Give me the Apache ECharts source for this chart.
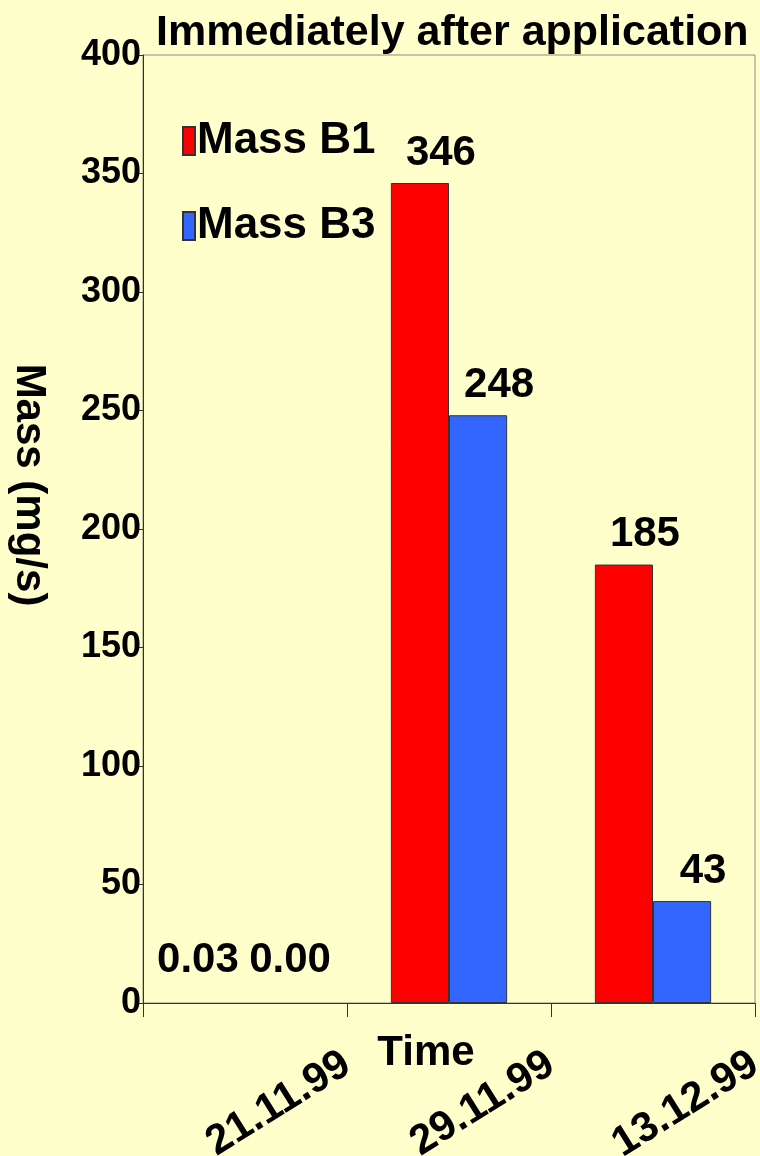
<!DOCTYPE html>
<html>
<head>
<meta charset="utf-8">
<script src="https://cdn.jsdelivr.net/npm/echarts@6/dist/echarts.min.js"></script>
<style>
  html, body { margin: 0; padding: 0; background: #FFFFCC; }
  #chart { width: 760px; height: 1156px; }
</style>
</head>
<body>
<div id="chart"></div>
<script>
// Sampling dates and measured mass flows
const categories = ['21.11.99', '29.11.99', '13.12.99'];
const massB1 = [0.03, 346, 185];
const massB3 = [0.00, 248, 43];
const yTicks = { min: 0, max: 400, interval: 50 };

const FONT = "'Liberation Sans', Arial, sans-serif";

// Near-zero values get their labels lifted and spread apart, and no outline
function withLabels(values, nearZeroOffset) {
  return values.map(v => v < 1
    ? { value: v, label: { offset: nearZeroOffset }, itemStyle: { borderWidth: 0 } }
    : v);
}

const barLabel = {
  show: true,
  position: 'top',
  distance: 9,
  offset: [21, 0],
  fontFamily: FONT,
  fontWeight: 'bold',
  fontSize: 42,
  color: '#000',
  formatter: p => (p.value < 1 ? p.value.toFixed(2) : String(p.value))
};

const chart = echarts.init(document.getElementById('chart'));
chart.setOption({
  backgroundColor: '#FFFFCC',
  animation: false,
  title: {
    text: 'Immediately after application',
    left: 151,
    top: 7,
    textStyle: { fontFamily: FONT, fontWeight: 'bold', fontSize: 43, color: '#000' }
  },
  legend: {
    orient: 'vertical',
    left: 182,
    top: 116,
    padding: 0,
    itemWidth: 12,
    itemHeight: 28,
    itemGap: 35,
    icon: 'rect',
    textStyle: { fontFamily: FONT, fontWeight: 'bold', fontSize: 44, color: '#000', lineHeight: 50, padding: [0, 0, 0, -3] },
    data: ['Mass B1', 'Mass B3']
  },
  grid: {
    left: 143, right: 5, top: 55, bottom: 153,
    outerBoundsMode: 'none',
    containLabel: false,
    show: true, borderColor: '#8a8a8a', borderWidth: 1, backgroundColor: 'transparent'
  },
  xAxis: [
    {
      type: 'category',
      data: categories,
      name: 'Time',
      nameLocation: 'middle',
      nameGap: 29,
      nameTextStyle: { fontFamily: FONT, fontWeight: 'bold', fontSize: 42, color: '#000', padding: [0, 46, 0, 0] },
      axisLine: { lineStyle: { color: '#333', width: 1 } },
      axisTick: { show: true, length: 14, lineStyle: { color: '#333' } },
      axisLabel: { show: false },
      splitLine: { show: false }
    },
    {
      // date labels sit at the band boundaries, right-aligned to each tick
      type: 'category',
      data: [''].concat(categories),
      boundaryGap: false,
      position: 'bottom',
      axisLine: { show: false },
      axisTick: { show: false },
      splitLine: { show: false },
      axisLabel: {
        interval: 0,
        rotate: 32,
        margin: 58,
        fontFamily: FONT, fontWeight: 'bold', fontSize: 42, color: '#000'
      }
    }
  ],
  yAxis: {
    type: 'value',
    min: yTicks.min, max: yTicks.max, interval: yTicks.interval,
    name: 'Mass (mg/s)',
    nameLocation: 'middle',
    nameRotate: -90,
    nameGap: 93,
    nameTextStyle: { fontFamily: FONT, fontWeight: 'bold', fontSize: 42, color: '#000', padding: [0, 88, 0, 0] },
    axisLine: { show: true, lineStyle: { color: '#333', width: 1 } },
    axisTick: { show: true, length: 5, lineStyle: { color: '#333' } },
    axisLabel: { margin: 2, fontFamily: FONT, fontWeight: 'bold', fontSize: 36, color: '#000' },
    splitLine: { show: false }
  },
  series: [
    {
      name: 'Mass B1',
      type: 'bar',
      xAxisIndex: 0,
      data: withLabels(massB1, [-18, -13]),
      barGap: '0%',
      barCategoryGap: '43%',
      itemStyle: { color: '#FF0000', borderColor: '#333', borderWidth: 1 },
      label: barLabel
    },
    {
      name: 'Mass B3',
      type: 'bar',
      xAxisIndex: 0,
      data: withLabels(massB3, [16, -13]),
      barGap: '0%',
      barCategoryGap: '43%',
      itemStyle: { color: '#3366FF', borderColor: '#333', borderWidth: 1 },
      label: barLabel
    }
  ]
});
</script>
</body>
</html>
